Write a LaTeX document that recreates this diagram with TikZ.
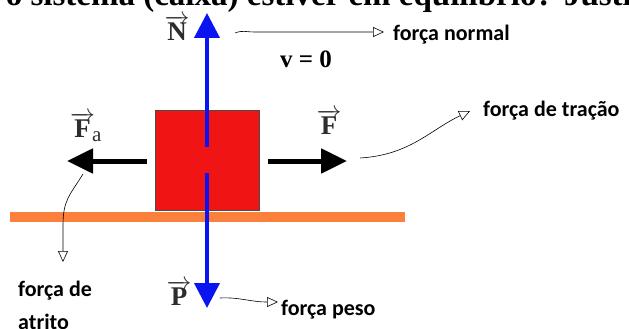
\documentclass[tikz,border=0pt]{standalone}
\usepackage{fontspec}
\setmainfont{Liberation Serif}
\newfontfamily\lblfont{Carlito}
\usetikzlibrary{arrows.meta}
\definecolor{blockred}{RGB}{240,20,20}
\definecolor{floororange}{RGB}{250,128,60}
\definecolor{vecblue}{RGB}{10,20,240}
\definecolor{vecgray}{RGB}{45,45,45}
\tikzset{
  lbl/.style={font=\lblfont\bfseries\fontsize{22}{25}\selectfont, inner sep=0pt, anchor=base west},
  veclbl/.style={font=\bfseries\fontsize{27}{28}\selectfont, text=vecgray, inner sep=0pt},
  bluevec/.style={vecblue, line width=4pt, -{Triangle[length=25pt 0 0, width=25pt 0 0]}},
  blackvec/.style={black, line width=5pt, -{Triangle[length=26pt 0 0, width=24pt 0 0]}},
  pointer/.style={black, line width=0.6pt, -{Triangle[open, length=11pt 0 0, width=10pt 0 0, line width=0.6pt]}},
}
\begin{document}
\begin{tikzpicture}[x=1pt,y=-1pt]
\useasboundingbox (0,0) rectangle (629,329);
\clip (0,0) rectangle (629,329);
% cut-off heading line
\node[font=\bfseries\fontsize{33}{36}\selectfont, inner sep=0pt, anchor=base west] (head) at (-109,6) {quando o sistema (caixa) estiver em equilíbrio? Justifique};
% floor and block
\fill[floororange] (10,212) rectangle (405,222);
\node[draw=black!70, line width=0.5pt, fill=blockred, minimum width=104pt, minimum height=100pt, inner sep=0pt] (block) at (207.5,160.5) {};
% blue normal and weight
\coordinate (nbase) at (207,147);
\coordinate (ntip) at (207,13);
\coordinate (pbase) at (207,173);
\coordinate (ptip) at (207,308);
\draw[bluevec] (nbase) -- (ntip);
\draw[bluevec] (pbase) -- (ptip);
% black horizontal forces
\coordinate (fabase) at (147,161);
\coordinate (fatip) at (67,161);
\coordinate (fbase) at (268,161);
\coordinate (ftip) at (347,161);
\draw[blackvec] (fabase) -- (fatip);
\draw[blackvec] (fbase) -- (ftip);
% vector labels
\node[veclbl] (N) at (177,28) {$\overrightarrow{\mbox{N}}$};
\node[veclbl] (P) at (179,293) {$\overrightarrow{\mbox{P}}$};
\node[veclbl] (F) at (329,122) {$\overrightarrow{\mbox{F}}$};
\node[veclbl, anchor=west] (Fa) at (70,127) {$\overrightarrow{\mbox{F}}\kern-3pt_{\mbox{\mdseries\fontsize{21}{21}\selectfont a}}$};
\node[font=\bfseries\fontsize{25}{28}\selectfont, inner sep=0pt] (v) at (306,59) {v = 0};
% text labels
\node[lbl] (normal) at (393,41) {força normal};
\node[lbl] (tracao) at (483,116) {força de tração};
\node[lbl] (peso) at (281,315) {força peso};
\node[lbl, align=left, anchor=north west] (atrito) at (18,281) {força de\\[8pt]atrito};
% pointers
\coordinate (n0) at (235,33);
\coordinate (n1) at (384,32);
\draw[pointer] (n0) .. controls (243,30) and (245,32) .. (255,32) -- (n1);
\coordinate (t0) at (360,158);
\coordinate (t1) at (470,111);
\draw[pointer] (t0) .. controls (410,155) and (430,130) .. (t1);
\coordinate (a0) at (83,174);
\coordinate (a1) at (63,262);
\draw[pointer] (a0) .. controls (70,195) and (63,200) .. (63,225) -- (a1);
\coordinate (p0) at (220,298);
\coordinate (p1) at (278,302);
\draw[pointer] (p0) .. controls (240,297) and (250,302) .. (p1);
\end{tikzpicture}
\end{document}
